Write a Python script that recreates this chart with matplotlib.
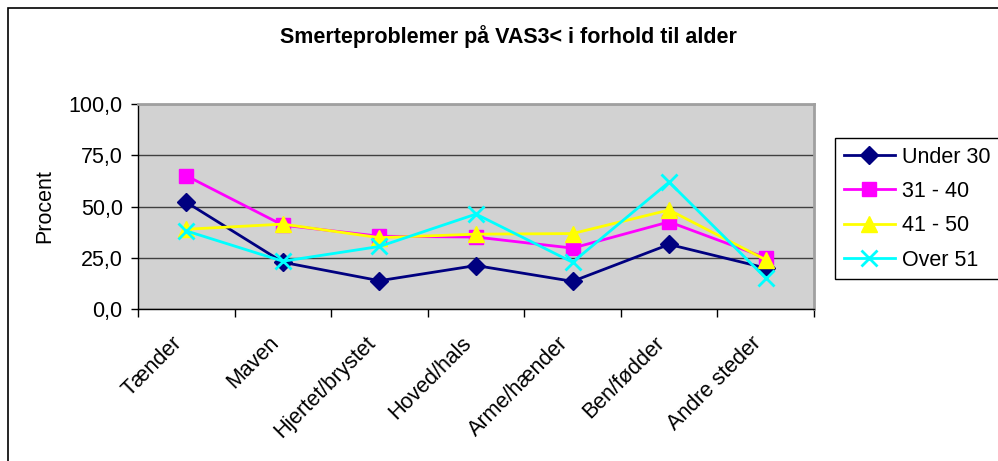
import matplotlib.pyplot as plt
from matplotlib.patches import Rectangle
from matplotlib.ticker import FuncFormatter, FixedLocator

plt.rcParams['font.family'] = ['Liberation Sans', 'DejaVu Sans']

categories = ["Tænder", "Maven", "Hjertet/brystet", "Hoved/hals",
              "Arme/hænder", "Ben/fødder", "Andre steder"]
under_30 = [52.1, 22.8, 13.8, 21.2, 13.5, 31.5, 20.0]
age_31_40 = [65.0, 40.9, 35.5, 35.1, 29.7, 42.5, 25.0]
age_41_50 = [38.9, 41.4, 34.8, 36.5, 36.8, 48.3, 24.0]
over_51 = [38.1, 23.3, 30.5, 46.3, 22.8, 61.9, 15.1]
series_names = ["Under 30", "31 - 40", "41 - 50", "Over 51"]

FS = 15.5

fig = plt.figure(figsize=(9.98, 4.61), dpi=100)
W, H = 998, 461

# outer chart border (runs off right/bottom edge like the source)
fig.patches.append(Rectangle((8 / W, -0.2), 1.2, 1.2 - 8 / H,
                             transform=fig.transFigure, fill=False,
                             edgecolor="black", linewidth=1.2))

ax = fig.add_axes([138 / W, 1 - 309 / H, 676 / W, 205 / H])
ax.set_facecolor("#d2d2d2")

x = list(range(len(categories)))
styles = [
    (under_30, "#000080", "D", 9),
    (age_31_40, "#ff00ff", "s", 10),
    (age_41_50, "#ffff00", "^", 11),
    (over_51, "#00ffff", "x", 11),
]
for (vals, col, mk, ms), name in zip(styles, series_names):
    ax.plot(x, vals, color=col, marker=mk, markersize=ms, linewidth=2,
            markeredgewidth=2 if mk == "x" else 1, markeredgecolor=col,
            label=name, zorder=3)

ax.set_xlim(-0.5, len(categories) - 0.5)
ax.set_ylim(0, 100)
ax.set_yticks([0, 25, 50, 75, 100])
ax.yaxis.set_major_formatter(FuncFormatter(lambda v, p: f"{v:.1f}".replace(".", ",")))
ax.grid(axis="y", color="#404040", linewidth=1, zorder=1)

# category labels centred on each category, tick marks on the boundaries
ax.xaxis.set_major_locator(FixedLocator([i - 0.5 for i in range(len(categories) + 1)]))
ax.set_xticklabels([])
ax.xaxis.set_minor_locator(FixedLocator(x))
ax.set_xticklabels(categories, minor=True, rotation=45, ha="right",
                   rotation_mode="default", fontsize=FS)
ax.tick_params(axis="x", which="minor", length=0, pad=17)
ax.tick_params(axis="x", which="major", length=6, width=1, direction="out")
ax.tick_params(axis="y", length=5, width=1, labelsize=FS, pad=6)

for side in ["top", "right"]:
    ax.spines[side].set_color("#a0a0a0")
    ax.spines[side].set_linewidth(2)
for side in ["left", "bottom"]:
    ax.spines[side].set_color("black")
    ax.spines[side].set_linewidth(1)

ax.set_ylabel("Procent", fontsize=FS)
ax.yaxis.set_label_coords(-83 / 676, 0.5)

fig.text(0.5 * (279 + 737) / W, 1 - 37 / H,
         "Smerteproblemer på VAS3< i forhold til alder",
         ha="center", va="center", fontsize=FS, fontweight="bold")

leg = ax.legend(loc="upper left", bbox_to_anchor=(835 / W, 1 - 138 / H),
                bbox_transform=fig.transFigure, frameon=True, fancybox=False,
                edgecolor="black", fontsize=FS, handlelength=2.4,
                borderpad=0.4, labelspacing=0.62, handletextpad=0.3,
                borderaxespad=0)
leg.get_frame().set_linewidth(1)
leg.get_frame().set_alpha(1)

fig.savefig("out.png", dpi=100)
